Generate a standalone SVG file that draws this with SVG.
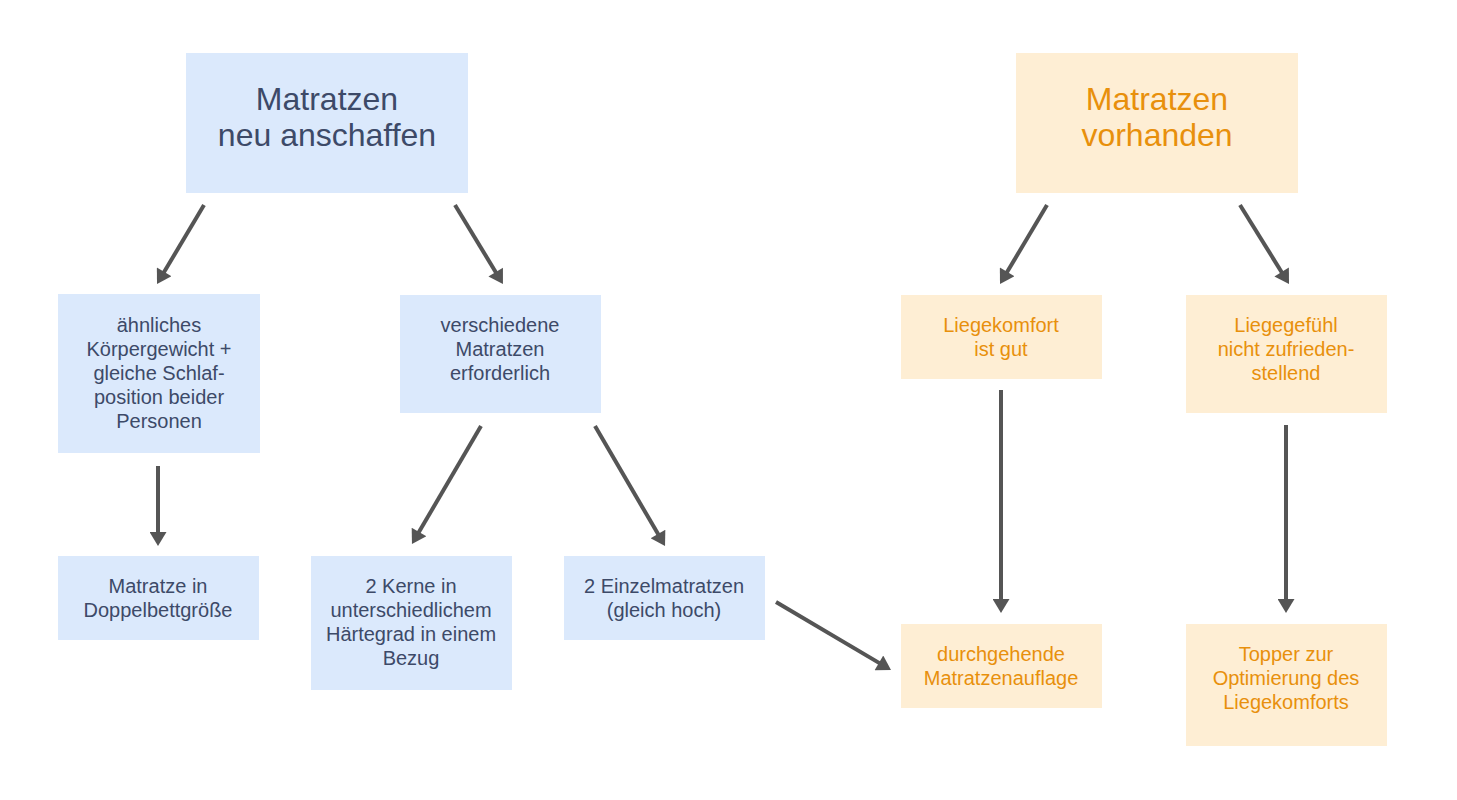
<svg xmlns="http://www.w3.org/2000/svg" width="1457" height="800" viewBox="0 0 1457 800">
<style>
.b{fill:#dbe9fc}
.o{fill:#feeed4}
.tb{fill:#3d4a68;font-family:"Liberation Sans",Arial,sans-serif;text-anchor:middle}
.to{fill:#e8900c;font-family:"Liberation Sans",Arial,sans-serif;text-anchor:middle}
.s{font-size:20px}
.t{font-size:32px}
.c line{stroke:#555555;stroke-width:4;marker-end:url(#ah)}
</style>
<defs>
<marker id="ah" markerUnits="userSpaceOnUse" markerWidth="16" markerHeight="17" viewBox="0 0 14 17" refX="6" refY="8.5" orient="auto">
<path d="M0,0 L14,8.5 L0,17 z" fill="#555555"/>
</marker>
</defs>
<rect width="1457" height="800" fill="#ffffff"/>
<g id="n-neu">
<rect class="b" x="186" y="53" width="282" height="140"/>
<text class="tb t" x="327" y="110">Matratzen</text>
<text class="tb t" x="327" y="146">neu anschaffen</text>
</g>
<g id="n-vorhanden">
<rect class="o" x="1016" y="53" width="282" height="140"/>
<text class="to t" x="1157" y="110">Matratzen</text>
<text class="to t" x="1157" y="146">vorhanden</text>
</g>
<g id="n-aehnlich">
<rect class="b" x="58" y="294" width="202" height="159"/>
<text class="tb s" x="159" y="332">ähnliches</text>
<text class="tb s" x="159" y="356">Körpergewicht +</text>
<text class="tb s" x="159" y="380">gleiche Schlaf-</text>
<text class="tb s" x="159" y="404">position beider</text>
<text class="tb s" x="159" y="428">Personen</text>
</g>
<g id="n-verschieden">
<rect class="b" x="400" y="295" width="201" height="118"/>
<text class="tb s" x="500" y="332">verschiedene</text>
<text class="tb s" x="500" y="356">Matratzen</text>
<text class="tb s" x="500" y="380">erforderlich</text>
</g>
<g id="n-gut">
<rect class="o" x="901" y="295" width="201" height="84"/>
<text class="to s" x="1001" y="332">Liegekomfort</text>
<text class="to s" x="1001" y="356">ist gut</text>
</g>
<g id="n-nicht">
<rect class="o" x="1186" y="295" width="201" height="118"/>
<text class="to s" x="1286" y="332">Liegegefühl</text>
<text class="to s" x="1286" y="356">nicht zufrieden-</text>
<text class="to s" x="1286" y="380">stellend</text>
</g>
<g id="n-doppel">
<rect class="b" x="58" y="556" width="201" height="84"/>
<text class="tb s" x="158" y="593">Matratze in</text>
<text class="tb s" x="158" y="617">Doppelbettgröße</text>
</g>
<g id="n-kerne">
<rect class="b" x="311" y="556" width="201" height="134"/>
<text class="tb s" x="411" y="593">2 Kerne in</text>
<text class="tb s" x="411" y="617">unterschiedlichem</text>
<text class="tb s" x="411" y="641">Härtegrad in einem</text>
<text class="tb s" x="411" y="665">Bezug</text>
</g>
<g id="n-einzel">
<rect class="b" x="564" y="556" width="201" height="84"/>
<text class="tb s" x="664" y="593">2 Einzelmatratzen</text>
<text class="tb s" x="664" y="617">(gleich hoch)</text>
</g>
<g id="n-auflage">
<rect class="o" x="901" y="624" width="201" height="84"/>
<text class="to s" x="1001" y="661">durchgehende</text>
<text class="to s" x="1001" y="685">Matratzenauflage</text>
</g>
<g id="n-topper">
<rect class="o" x="1186" y="624" width="201" height="122"/>
<text class="to s" x="1286" y="661">Topper zur</text>
<text class="to s" x="1286" y="685">Optimierung des</text>
<text class="to s" x="1286" y="709">Liegekomforts</text>
</g>
<g id="connectors" class="c">
<line x1="204" y1="205" x2="161.1" y2="277.1"/>
<line x1="455" y1="205" x2="498.8" y2="277.2"/>
<line x1="158" y1="466" x2="158" y2="538"/>
<line x1="481" y1="426" x2="416" y2="537.1"/>
<line x1="595" y1="426" x2="661" y2="539.1"/>
<line x1="776" y1="602" x2="884.1" y2="665.9"/>
<line x1="1047" y1="205" x2="1004.1" y2="277.1"/>
<line x1="1240" y1="205" x2="1284.8" y2="277.2"/>
<line x1="1001" y1="390" x2="1001" y2="605"/>
<line x1="1286" y1="425" x2="1286" y2="605"/>
</g>
</svg>
